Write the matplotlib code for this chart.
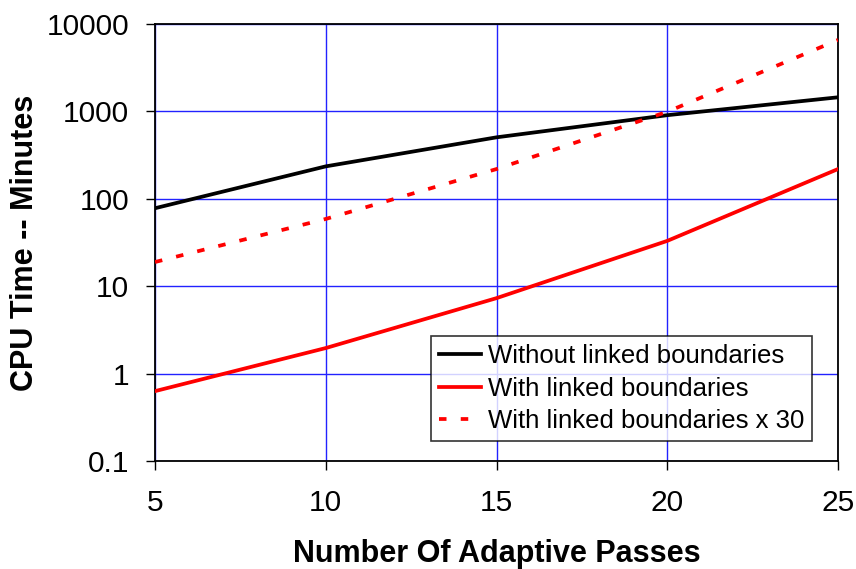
import matplotlib
matplotlib.use("Agg")
import matplotlib.pyplot as plt
from matplotlib.ticker import FixedLocator, FixedFormatter, NullLocator

plt.rcParams['font.family'] = ['Liberation Sans', 'DejaVu Sans']

passes = [5, 10, 15, 20, 25]
without_linked = [78, 235, 505, 905, 1450]
with_linked = [0.63, 1.96, 7.3, 33, 219]
with_linked_x30 = [18.9, 58.8, 219, 990, 6570]

y_ticks = [0.1, 1, 10, 100, 1000, 10000]
y_labels = ["0.1", "1", "10", "100", "1000", "10000"]
x_ticks = [5, 10, 15, 20, 25]

fig = plt.figure(figsize=(8.56, 5.69), dpi=100)
ax = fig.add_axes([155/856, 1 - 461/569, (838-155)/856, (461-24)/569])

ax.plot(passes, without_linked, color='black', lw=2.7, label='Without linked boundaries', zorder=3)
ax.plot(passes, with_linked, color='red', lw=2.7, label='With linked boundaries', zorder=3)
ax.plot(passes, with_linked_x30, color='red', lw=2.7, ls=(0, (2.0, 3.8)), label='With linked boundaries x 30', zorder=3)

ax.set_yscale('log')
ax.set_xlim(5, 25)
ax.set_ylim(0.1, 10000)
ax.yaxis.set_major_locator(FixedLocator(y_ticks))
ax.yaxis.set_major_formatter(FixedFormatter(y_labels))
ax.yaxis.set_minor_locator(NullLocator())
ax.set_xticks(x_ticks)
ax.set_xticklabels([str(v) for v in x_ticks])

ax.grid(True, color='#2222ff', lw=1.0)
ax.tick_params(axis='both', direction='out', length=6.5, width=1, labelsize=21.5)
ax.tick_params(axis='y', pad=12)
ax.tick_params(axis='x', pad=14)
for s in ax.spines.values():
    s.set_linewidth(1.3)
    s.set_color('black')

ax.set_xlabel('Number Of Adaptive Passes', fontsize=22, fontweight='bold', va='center')
ax.set_ylabel('CPU Time -- Minutes', fontsize=22, fontweight='bold', va='center')
ax.xaxis.set_label_coords(0.5, (461 - 554) / 437)
ax.yaxis.set_label_coords((25 - 155) / 683, 0.5)

leg = ax.legend(loc='lower right', bbox_to_anchor=(812/856, 1 - 441/569), bbox_transform=fig.transFigure,
                fontsize=18.5, frameon=True, fancybox=False, edgecolor='black',
                borderaxespad=0, handlelength=1.65, labelspacing=0.34, borderpad=0.3, handletextpad=0.25)
leg.get_frame().set_linewidth(1.2)

fig.savefig('out.png', dpi=100)
